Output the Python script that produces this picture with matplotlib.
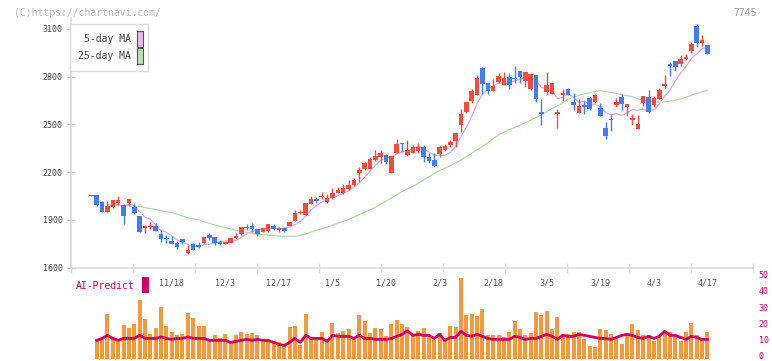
import matplotlib
matplotlib.use("Agg")
import matplotlib.pyplot as plt
import matplotlib.transforms as mtransforms
from matplotlib.patches import Rectangle
import numpy as np
import pandas as pd

# ───── DATA ────────────────────────────────────────────────────
opens = [2050, 2054, 2014, 1951, 1982, 2004, 1993, 2008, 1980, 1924,
         1847, 1853, 1861, 1811, 1787, 1767, 1756, 1779, 1691, 1750,
         1742, 1756, 1804, 1792, 1762, 1746, 1756, 1787, 1813, 1847,
         1863, 1844, 1823, 1830, 1861, 1838, 1847, 1860, 1894, 1941,
         1930, 2000, 2031, 2045, 2012, 2035, 2070, 2067, 2092, 2119,
         2196, 2220, 2220, 2276, 2297, 2306, 2196, 2322, 2381, 2307,
         2322, 2333, 2360, 2293, 2276, 2312, 2339, 2370, 2396, 2496,
         2580, 2647, 2685, 2853, 2762, 2710, 2769, 2748, 2796, 2790,
         2836, 2773, 2721, 2811, 2580, 2702, 2691, 2563, 2685, 2722,
         2643, 2574, 2622, 2664, 2643, 2601, 2476, 2536, 2622, 2670,
         2612, 2530, 2471, 2637, 2675, 2622, 2660, 2743, 2880, 2899,
         2878, 2911, 2962, 3119, 3014, 3000]
highs = [2054, 2056, 2020, 2018, 2027, 2050, 2000, 2031, 2004, 1926,
         1867, 1886, 1882, 1836, 1804, 1798, 1767, 1779, 1742, 1752,
         1758, 1795, 1815, 1792, 1775, 1762, 1787, 1819, 1855, 1876,
         1880, 1844, 1850, 1872, 1876, 1857, 1851, 1884, 1962, 1962,
         2008, 2050, 2041, 2075, 2062, 2098, 2104, 2125, 2150, 2161,
         2230, 2262, 2297, 2339, 2339, 2314, 2303, 2408, 2385, 2402,
         2370, 2385, 2370, 2318, 2318, 2364, 2375, 2402, 2448, 2597,
         2643, 2721, 2811, 2859, 2762, 2786, 2822, 2832, 2822, 2867,
         2836, 2828, 2817, 2811, 2660, 2828, 2762, 2597, 2721, 2727,
         2696, 2660, 2647, 2679, 2691, 2633, 2513, 2564, 2664, 2691,
         2628, 2564, 2559, 2679, 2716, 2679, 2727, 2811, 2895, 2899,
         2937, 2943, 3017, 3130, 3062, 3000]
lows = [2050, 1990, 1951, 1951, 1975, 1993, 1875, 1989, 1938, 1825,
        1815, 1844, 1831, 1758, 1756, 1748, 1718, 1748, 1685, 1710,
        1721, 1756, 1773, 1742, 1742, 1746, 1756, 1777, 1805, 1834,
        1825, 1801, 1823, 1826, 1834, 1825, 1825, 1860, 1894, 1938,
        1930, 2000, 2008, 2033, 2008, 2029, 2067, 2062, 2087, 2113,
        2138, 2213, 2220, 2272, 2255, 2251, 2196, 2322, 2328, 2303,
        2318, 2318, 2266, 2259, 2234, 2297, 2335, 2360, 2360, 2454,
        2574, 2637, 2685, 2691, 2691, 2710, 2762, 2748, 2721, 2759,
        2762, 2733, 2715, 2643, 2497, 2685, 2691, 2479, 2649, 2685,
        2591, 2574, 2565, 2591, 2637, 2555, 2406, 2460, 2608, 2591,
        2553, 2496, 2471, 2616, 2570, 2608, 2660, 2731, 2805, 2838,
        2869, 2905, 2951, 2989, 2993, 2941]
closes = [2052, 1993, 1951, 1987, 2025, 2025, 1926, 2031, 1945, 1825,
          1863, 1861, 1831, 1779, 1777, 1748, 1731, 1762, 1710, 1713,
          1731, 1792, 1784, 1752, 1748, 1762, 1787, 1800, 1855, 1855,
          1842, 1811, 1850, 1872, 1844, 1847, 1832, 1884, 1941, 1951,
          2008, 2031, 2020, 2051, 2035, 2067, 2087, 2098, 2119, 2150,
          2213, 2255, 2282, 2303, 2322, 2265, 2303, 2376, 2375, 2339,
          2360, 2360, 2297, 2272, 2240, 2356, 2364, 2391, 2448, 2565,
          2643, 2710, 2790, 2754, 2710, 2742, 2805, 2790, 2748, 2784,
          2796, 2828, 2817, 2660, 2563, 2748, 2762, 2580, 2696, 2685,
          2622, 2616, 2612, 2597, 2685, 2555, 2429, 2530, 2643, 2627,
          2628, 2542, 2502, 2679, 2576, 2664, 2716, 2754, 2869, 2863,
          2911, 2922, 3006, 3014, 3031, 2941]

# 25-day moving average, read at sample candles
ma25_idx = [3, 5, 9, 10, 12, 13, 15, 16, 17, 18, 20, 21, 23, 25, 27, 29, 31,
            35, 38, 40, 42, 43, 45, 46, 48, 50, 52, 54, 56, 58, 60, 62, 64,
            65, 67, 69, 71, 73, 74, 76, 78, 80, 82, 84, 86, 88, 89, 91, 93,
            95, 97, 99, 101, 102, 104, 106, 108, 110, 112, 114, 115]
ma25_val = [1993, 1990, 1985, 1976, 1966, 1958, 1945, 1935, 1924, 1913, 1900,
            1888, 1868, 1852, 1834, 1820, 1809, 1798, 1796, 1810, 1835, 1843,
            1866, 1878, 1902, 1932, 1962, 1997, 2038, 2078, 2110, 2150, 2192,
            2209, 2240, 2275, 2318, 2362, 2385, 2435, 2467, 2495, 2527, 2558,
            2600, 2635, 2660, 2683, 2700, 2712, 2700, 2686, 2675, 2660, 2646,
            2640, 2645, 2660, 2683, 2705, 2716]

# lower panel (starts at the second candle)
volume = [11.2, 11.8, 27.3, 12.2, 10.8, 20.5, 18.6, 21.1, 36.0, 24.2,
          14.9, 18.6, 31.7, 19.9, 16.4, 14.3, 14.9, 28.2, 24.8, 19.9,
          19.9, 10.8, 14.3, 12.4, 14.9, 10.8, 14.3, 16.4, 14.9, 15.5,
          14.5, 10.8, 11.2, 10.8, 9.9, 8.1, 19.3, 19.9, 8.1, 27.3,
          11.8, 11.8, 16.4, 11.8, 21.7, 15.5, 16.8, 18.0, 12.4, 26.7,
          23.0, 15.5, 18.6, 18.0, 13.7, 21.1, 23.6, 21.1, 19.3, 14.3,
          16.8, 18.6, 14.3, 11.2, 15.5, 11.2, 19.9, 19.3, 49.7, 26.7,
          27.3, 26.1, 30.4, 14.3, 14.3, 14.3, 13.0, 16.1, 23.0, 18.0,
          14.3, 15.5, 28.6, 26.7, 29.2, 18.0, 25.5, 14.9, 14.9, 16.1,
          16.1, 11.8, 7.5, 6.8, 18.0, 17.4, 14.9, 12.4, 8.7, 14.3,
          21.1, 17.4, 14.3, 14.3, 10.6, 13.0, 16.1, 16.1, 14.3, 10.6,
          16.1, 21.7, 14.3, 11.2, 16.1]
ai_predict = [11.2, 12.4, 14.3, 12.4, 11.2, 12.4, 12.4, 12.4, 14.3, 12.4,
              12.4, 12.4, 13.3, 12.4, 11.8, 12.4, 12.4, 13.3, 12.4, 12.4,
              12.4, 11.2, 11.2, 11.2, 11.2, 9.9, 10.6, 11.2, 11.8, 11.2,
              11.8, 11.2, 11.2, 9.9, 8.7, 8.1, 10.0, 12.4, 9.9, 14.3,
              12.4, 12.4, 12.4, 10.6, 14.3, 13.7, 13.7, 13.7, 12.4, 14.3,
              12.4, 12.4, 11.8, 11.8, 11.8, 12.4, 13.7, 14.9, 17.0, 14.3,
              14.9, 14.3, 14.3, 12.4, 14.9, 11.2, 13.0, 13.0, 16.8, 14.3,
              13.7, 14.9, 13.7, 12.4, 11.8, 11.8, 11.8, 11.8, 13.7, 13.0,
              11.8, 12.4, 12.4, 13.7, 14.9, 13.7, 11.8, 14.3, 13.7, 13.7,
              14.9, 14.3, 13.7, 13.0, 12.4, 12.4, 11.8, 13.0, 14.3, 14.9,
              14.3, 13.0, 12.4, 13.7, 12.4, 13.7, 16.8, 14.3, 14.3, 13.0,
              11.8, 13.7, 13.0, 11.8, 11.8]

date_labels = ["11/18", "12/3", "12/17", "1/5", "1/20", "2/3",
               "2/18", "3/5", "3/19", "4/3", "4/17"]
date_label_idx = [15, 25, 35, 45, 55, 65, 75, 85, 95, 105, 115]
price_ticks = [1600, 1900, 2200, 2500, 2800, 3100]
ai_ticks = [0, 10, 20, 30, 40, 50]
# ───────────────────────────────────────────────────────────────

RED = "#f04e3c"
BLUE = "#3f7ef0"
ORANGE = "#f39a3e"
CRIMSON = "#cc0066"
FONT = "DejaVu Sans Mono"
W, H = 772, 361

def fx(px):
    return px / W

def fy(py):
    return 1 - py / H

fig = plt.figure(figsize=(W / 100, H / 100), dpi=100)
fig.patch.set_facecolor("white")

XLIM = (-3.81, 123.5)

# ---- price panel ----
ax = fig.add_axes([fx(71), fy(268), fx(753) - fx(71), fy(18) - fy(268)])
ax.set_xlim(*XLIM)
ax.set_ylim(1597, 3169)

idx = np.arange(len(closes))
for i in idx:
    o, h, l, c = opens[i], highs[i], lows[i], closes[i]
    col = RED if c >= o else BLUE
    ax.vlines(i, l, h, color=col, lw=1.0, zorder=3)
    body = max(abs(c - o), 6)
    ax.bar(i, body, bottom=min(o, c), width=0.85, color=col, lw=0, zorder=4)

ma5 = pd.Series(closes).rolling(5).mean()
ax.plot(idx, ma5, color="#e2a6e6", lw=0.9, zorder=2)
ax.plot(ma25_idx, ma25_val, color="#b2dba8", lw=0.9, zorder=2)

for s in ["top", "right"]:
    ax.spines[s].set_visible(False)
for s in ["left", "bottom"]:
    ax.spines[s].set_color("#dddddd")
    ax.spines[s].set_linewidth(1.2)
ax.set_yticks(price_ticks)
ax.set_yticklabels([str(p) for p in price_ticks], fontsize=6, family=FONT,
                   color="#444444")
ax.tick_params(axis="y", direction="inout", length=6, width=1.0,
               color="#cccccc", pad=3)
ax.set_xticks(np.linspace(XLIM[0], XLIM[1], 12))
ax.tick_params(axis="x", direction="inout", length=7, width=1.0,
               color="#dddddd", labelbottom=False)

# ---- AI-Predict / volume panel ----
ax2 = fig.add_axes([fx(71), fy(358.5), fx(753) - fx(71), fy(277.5) - fy(358.5)])
ax2.set_xlim(*XLIM)
ax2.set_ylim(0, 50)
vidx = np.arange(1, len(volume) + 1)
ax2.bar(vidx, volume, width=0.75, color=ORANGE, lw=0, zorder=2)
ax2.plot(vidx, ai_predict, color=CRIMSON, lw=2.0, zorder=3)
for s in ax2.spines.values():
    s.set_visible(False)
ax2.set_xticks([])
ax2.yaxis.tick_right()
ax2.set_yticks(ai_ticks)
ax2.set_yticklabels([str(v) for v in ai_ticks], fontsize=6, family=FONT,
                    color=CRIMSON)
ax2.tick_params(axis="y", length=0, pad=4)
ax2.patch.set_alpha(0)
# nudge right-hand labels up a little so "0" stays inside the canvas
shift = mtransforms.ScaledTranslation(0, 2.0 / 72, fig.dpi_scale_trans)
for lab in ax2.get_yticklabels():
    lab.set_transform(lab.get_transform() + shift)

for lab, i in zip(date_labels, date_label_idx):
    ax2.text(i, 46.9, lab, ha="center", va="center", fontsize=6,
             family=FONT, color="#555555")

# ---- legends and captions ----
fig.text(fx(76), fy(286), "AI-Predict", ha="left", va="center", fontsize=7,
         family=FONT, color=CRIMSON)
fig.patches.append(Rectangle((fx(142), fy(293)), fx(7), fy(0) - fy(16),
                             transform=fig.transFigure, color=CRIMSON, lw=0))

fig.patches.append(Rectangle((fx(70), fy(71)), fx(78), fy(0) - fy(47),
                             transform=fig.transFigure, facecolor="white",
                             edgecolor="#dddddd", lw=1.0, zorder=5))
fig.text(fx(131), fy(38.5), "5-day MA", ha="right", va="center", fontsize=7,
         family=FONT, color="#444444", zorder=6)
fig.text(fx(131), fy(56), "25-day MA", ha="right", va="center", fontsize=7,
         family=FONT, color="#444444", zorder=6)
fig.patches.append(Rectangle((fx(137), fy(46.5)), fx(5.5), fy(0) - fy(15),
                             transform=fig.transFigure, facecolor="#eab8ec",
                             edgecolor="#555555", lw=0.8, zorder=6))
fig.patches.append(Rectangle((fx(137), fy(63.5)), fx(5.5), fy(0) - fy(15),
                             transform=fig.transFigure, facecolor="#bfe0b4",
                             edgecolor="#555555", lw=0.8, zorder=6))

fig.text(fx(14), fy(12.5), "(C)https://chartnavi.com/", ha="left",
         va="center", fontsize=7, family=FONT, color="#bbbbbb")
fig.text(fx(757), fy(12.5), "7745", ha="right", va="center", fontsize=7,
         family=FONT, color="#999999")

fig.savefig("out.png", dpi=100, facecolor="white")
plt.close(fig)
